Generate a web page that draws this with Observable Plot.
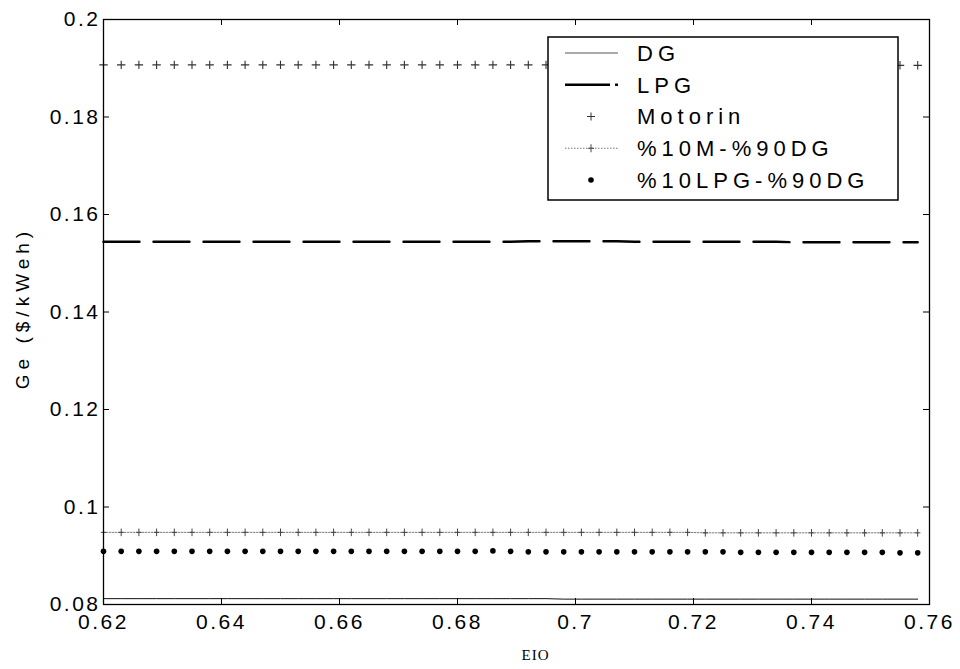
<!DOCTYPE html>
<html><head><meta charset="utf-8">
<script src="https://cdn.jsdelivr.net/npm/d3@7"></script>
<script src="https://cdn.jsdelivr.net/npm/@observablehq/plot@0.6"></script>
<style>
html,body{margin:0;padding:0;background:#fff;}
#chart{position:relative;width:960px;height:669px;}
#chart svg text{letter-spacing:2.5px;}
</style></head><body><div id="chart"></div>
<script>
// EIO values (x)
const eio = [0.620,0.623,0.626,0.629,0.632,0.635,0.638,0.641,0.644,0.647,0.650,0.653,0.656,0.659,0.662,0.665,0.668,0.671,0.674,0.677,0.680,0.683,0.686,0.689,0.692,0.695,0.698,0.701,0.704,0.707,0.710,0.713,0.716,0.719,0.722,0.725,0.728,0.731,0.734,0.737,0.740,0.743,0.746,0.749,0.752,0.755,0.758];
// Ge ($/kWeh) series
const dg = [0.0812,0.0812,0.0812,0.0812,0.0812,0.0812,0.0812,0.0812,0.0812,0.0812,0.0812,0.0812,0.0812,0.0812,0.0812,0.0812,0.0812,0.0812,0.0812,0.0812,0.0812,0.0812,0.0812,0.0812,0.0812,0.0812,0.0811,0.0811,0.0811,0.0811,0.0811,0.0811,0.0811,0.0811,0.0811,0.0811,0.0811,0.0811,0.0811,0.0811,0.0811,0.0811,0.0811,0.0811,0.0811,0.0811,0.0811];
const lpg = [0.1544,0.1544,0.1544,0.1544,0.1544,0.1544,0.1544,0.1544,0.1544,0.1544,0.1544,0.1544,0.1544,0.1544,0.1544,0.1544,0.1544,0.1544,0.1544,0.1544,0.1544,0.1544,0.1544,0.1544,0.1545,0.1545,0.1545,0.1545,0.1545,0.1545,0.1544,0.1544,0.1544,0.1544,0.1544,0.1544,0.1544,0.1544,0.1544,0.1543,0.1543,0.1543,0.1543,0.1543,0.1543,0.1543,0.1543];
const motorin = [0.1907,0.1907,0.1907,0.1907,0.1907,0.1907,0.1907,0.1907,0.1907,0.1907,0.1907,0.1907,0.1907,0.1907,0.1907,0.1907,0.1907,0.1907,0.1907,0.1907,0.1907,0.1907,0.1907,0.1907,0.1907,0.1907,0.1907,0.1907,0.1907,0.1907,0.1907,0.1907,0.1907,0.1907,0.1907,0.1907,0.1907,0.1907,0.1907,0.1907,0.1906,0.1906,0.1906,0.1906,0.1906,0.1906,0.1906];
const m10dg90 = [0.0948,0.0948,0.0948,0.0948,0.0948,0.0948,0.0948,0.0948,0.0948,0.0948,0.0948,0.0948,0.0948,0.0948,0.0948,0.0948,0.0948,0.0948,0.0948,0.0948,0.0948,0.0948,0.0948,0.0948,0.0948,0.0948,0.0948,0.0948,0.0948,0.0948,0.0948,0.0948,0.0948,0.0948,0.0947,0.0947,0.0947,0.0947,0.0947,0.0947,0.0947,0.0947,0.0947,0.0947,0.0947,0.0947,0.0947];
const lpg10dg90 = [0.0909,0.0909,0.0909,0.0909,0.0909,0.0909,0.0909,0.0909,0.0909,0.0909,0.0909,0.0909,0.0909,0.0909,0.0909,0.0909,0.0909,0.0909,0.0909,0.0909,0.0909,0.0909,0.0910,0.0909,0.0908,0.0908,0.0908,0.0908,0.0908,0.0908,0.0908,0.0908,0.0908,0.0908,0.0908,0.0908,0.0907,0.0907,0.0907,0.0907,0.0907,0.0907,0.0907,0.0907,0.0907,0.0906,0.0906];

const seriesNames = ["DG","LPG","Motorin","%10M-%90DG","%10LPG-%90DG"];
const xTicks = [0.62,0.64,0.66,0.68,0.70,0.72,0.74,0.76];
const yTicks = [0.08,0.10,0.12,0.14,0.16,0.18,0.20];
const xLabel = "EIO";
const yLabel = "Ge ($/kWeh)";

const rows = eio.map((x,i)=>({x, dg: dg[i], lpg: lpg[i], mot: motorin[i], m10: m10dg90[i], l10: lpg10dg90[i]}));

const thinPlus = {draw(ctx, size){const r=Math.sqrt(size/Math.PI); ctx.moveTo(-r,0); ctx.lineTo(r,0); ctx.moveTo(0,-r); ctx.lineTo(0,r);}};
const tallPlus = {draw(ctx, size){const r=Math.sqrt(size/Math.PI); ctx.moveTo(-r*0.7,0); ctx.lineTo(r*0.7,0); ctx.moveTo(0,-r); ctx.lineTo(0,r);}};
const fmt = d => String(+d.toFixed(2));

const W=960,H=669,mL=103,mR=31,mT=19,mB=65;
const pw=W-mL-mR, ph=H-mT-mB;

const plot = Plot.plot({
  width: W, height: H,
  marginLeft: mL, marginRight: mR, marginTop: mT, marginBottom: mB,
  style: {fontFamily: "'Liberation Sans', Arial, sans-serif", background: "white", overflow: "visible"},
  x: {domain: [0.62, 0.76], axis: null},
  y: {domain: [0.08, 0.2], axis: null},
  marks: [
    Plot.lineY(rows, {x: "x", y: "dg", stroke: "#111", strokeWidth: 1}),
    Plot.lineY(rows, {x: "x", y: "lpg", stroke: "#000", strokeWidth: 2.4, strokeDasharray: "36,14"}),
    Plot.dot(rows, {x: "x", y: "mot", symbol: thinPlus, r: 4.2, stroke: "#333", fill: "none", strokeWidth: 1.1}),
    Plot.lineY(rows, {x: "x", y: "m10", stroke: "#777", strokeWidth: 1, strokeDasharray: "1.5,1.5"}),
    Plot.dot(rows, {x: "x", y: "m10", symbol: tallPlus, r: 3.8, stroke: "#444", fill: "none", strokeWidth: 1}),
    Plot.dot(rows, {x: "x", y: "l10", r: 2.8, fill: "#000", stroke: "none"}),
    Plot.frame({stroke: "#000", strokeWidth: 1.3}),
    Plot.tickX(xTicks, {x: d => d, insetTop: ph - 6, stroke: "#000"}),
    Plot.tickX(xTicks, {x: d => d, insetBottom: ph - 6, stroke: "#000"}),
    Plot.tickY(yTicks, {y: d => d, insetRight: pw - 6, stroke: "#000"}),
    Plot.tickY(yTicks, {y: d => d, insetLeft: pw - 6, stroke: "#000"}),
    Plot.axisX({ticks: xTicks, tickSize: 0, tickPadding: 10, tickFormat: fmt, fontSize: 21, label: null}),
    Plot.axisY({ticks: yTicks, tickSize: 0, tickPadding: 3, tickFormat: fmt, fontSize: 21, label: null}),
    Plot.text([xLabel], {frameAnchor: "bottom", dy: 51, dx: 19, lineAnchor: "middle", textAnchor: "middle", fontSize: 15, fontFamily: "'Liberation Serif', 'Times New Roman', serif", fill: "#000"}),
    Plot.text([yLabel], {frameAnchor: "left", dx: -81, dy: -4, rotate: -90, textAnchor: "middle", lineAnchor: "middle", fontSize: 19, fill: "#000"})
  ]
});
document.getElementById("chart").appendChild(plot);

const svg = d3.select(plot);
svg.selectAll("text").filter(function(){return this.textContent === xLabel;}).style("letter-spacing","1px");
svg.selectAll("text").filter(function(){return this.textContent === yLabel;}).style("letter-spacing","5px");

// Legend box
const lg = svg.append("g").attr("text-anchor","start");
const lx=548, ly=37, lw=350, lh=163;
lg.append("rect").attr("x",lx).attr("y",ly).attr("width",lw).attr("height",lh).attr("fill","white").attr("stroke","#000").attr("stroke-width",1.5);
const ey0 = 53, estep = 31.75, sx1 = 565, sx2 = 618, scx = 591, tx = 637;
seriesNames.forEach((name,i)=>{
  const y = ey0 + i*estep;
  const e = lg.append("g");
  if (i===0) e.append("line").attr("x1",sx1).attr("x2",sx2).attr("y1",y).attr("y2",y).attr("stroke","#555").attr("stroke-width",1);
  if (i===1) { e.append("line").attr("x1",sx1).attr("x2",sx1+45).attr("y1",y).attr("y2",y).attr("stroke","#000").attr("stroke-width",2.4);
               e.append("line").attr("x1",sx2-3).attr("x2",sx2).attr("y1",y).attr("y2",y).attr("stroke","#000").attr("stroke-width",2.4); }
  if (i===2) e.append("path").attr("d",`M${scx-4},${y}H${scx+4}M${scx},${y-4}V${y+4}`).attr("stroke","#333").attr("fill","none");
  if (i===3) { e.append("line").attr("x1",sx1).attr("x2",sx2).attr("y1",y).attr("y2",y).attr("stroke","#777").attr("stroke-dasharray","1.5,1.5");
               e.append("path").attr("d",`M${scx-3},${y}H${scx+3}M${scx},${y-4}V${y+4}`).attr("stroke","#444").attr("fill","none"); }
  if (i===4) e.append("circle").attr("cx",scx).attr("cy",y).attr("r",2.8).attr("fill","#000");
  e.append("text").attr("x",tx).attr("y",y).attr("dy","0.36em").attr("text-anchor","start").attr("font-size",22).style("letter-spacing","5px").attr("fill","#000").text(name);
});
</script></body></html>
